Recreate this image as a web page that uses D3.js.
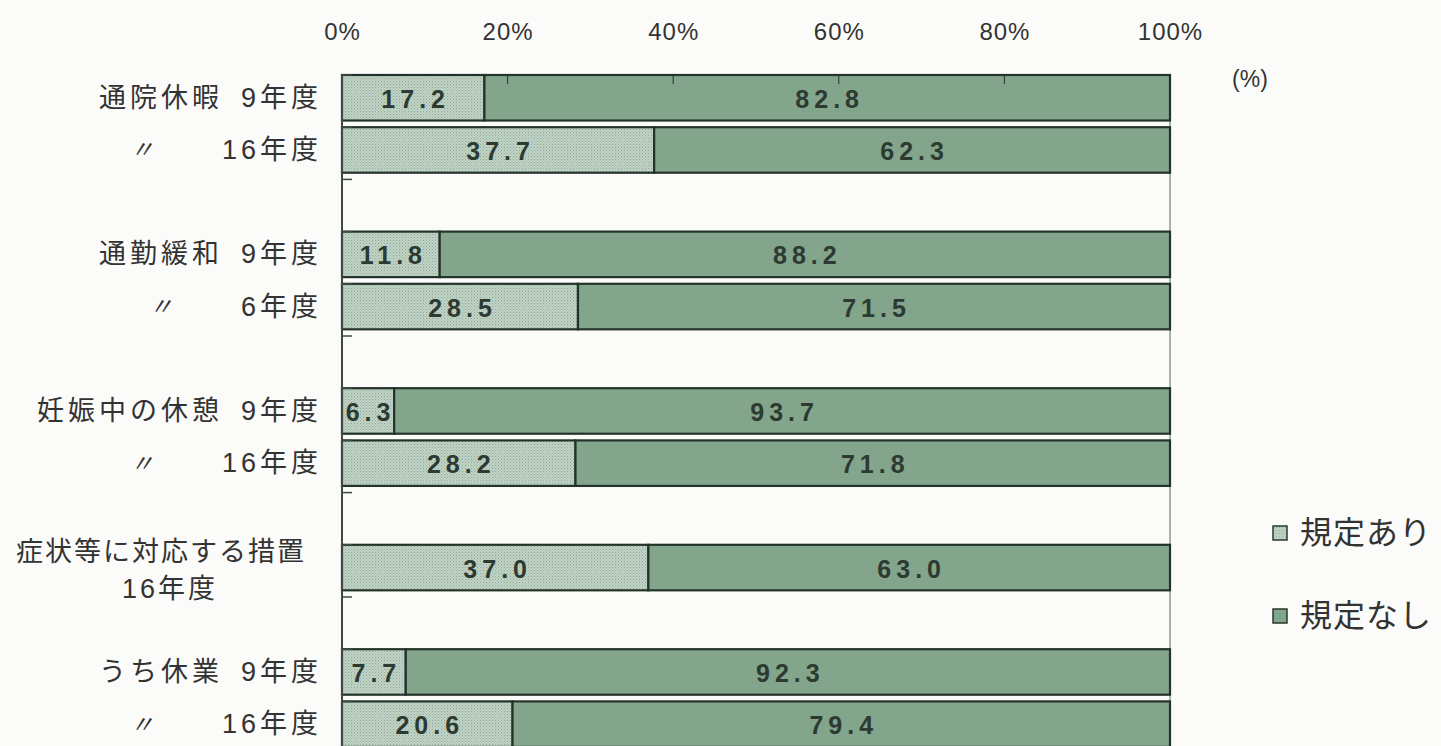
<!DOCTYPE html>
<html>
<head>
<meta charset="utf-8">
<script src="https://cdn.jsdelivr.net/npm/d3@7"></script>
<style>
  body { margin: 0; background: #fbfbf9; }
  text { font-family: "Liberation Sans", "Noto Sans CJK JP", sans-serif; }
</style>
</head>
<body>
<div id="chart"></div>
<script>
// data
var groups = ["通院休暇", "通勤緩和", "妊娠中の休憩", "症状等に対応する措置", "うち休業"];
var groupYears = [["9年度", "16年度"], ["9年度", "6年度"], ["9年度", "16年度"], ["16年度"], ["9年度", "16年度"]];
var withRule = [17.2, 37.7, 11.8, 28.5, 6.3, 28.2, 37.0, 7.7, 20.6];     // 規定あり
var withoutRule = [82.8, 62.3, 88.2, 71.5, 93.7, 71.8, 63.0, 92.3, 79.4]; // 規定なし
var xTicks = [0, 20, 40, 60, 80, 100];
var seriesNames = ["規定あり", "規定なし"];

var svgWidth = 1441;
var svgHeight = 746;

var svg = d3.select("#chart")
  .append("svg")
  .attr("width", svgWidth)
  .attr("height", svgHeight);

var defs = svg.append("defs");
var pat = defs.append("pattern")
  .attr("id", "dots")
  .attr("width", 3).attr("height", 3)
  .attr("patternUnits", "userSpaceOnUse");
pat.append("rect").attr("width", 3).attr("height", 3).attr("fill", "#c0d3c6");
pat.append("rect").attr("width", 1).attr("height", 1).attr("fill", "#8fa997");
pat.append("rect").attr("x", 1.5).attr("y", 1.5).attr("width", 1).attr("height", 1).attr("fill", "#a0b8a7");

var fills = ["url(#dots)", "#83a58c"];

// build rows, with an empty slot after each group
var rows = [];
var domain = [];
var idx = 0;
groups.forEach(function(g, gi) {
  groupYears[gi].forEach(function(yr, k) {
    rows.push({
      id: "row" + idx, group: g, year: yr, first: k === 0,
      single: groupYears[gi].length === 1,
      ari: withRule[idx], nashi: withoutRule[idx]
    });
    domain.push("row" + idx);
    idx++;
  });
  domain.push("gap" + gi);
});

var x = d3.scaleLinear().domain([0, 100]).range([342, 1170]);
var y = d3.scaleBand()
  .domain(domain)
  .range([75, 75 + 52.2 * domain.length])
  .paddingInner(0.128)
  .paddingOuter(0.064)
  .align(0);

var stack = d3.stack().keys(["ari", "nashi"]);
var series = stack(rows);

// right border of plot area
svg.append("line")
  .attr("x1", x(100)).attr("x2", x(100))
  .attr("y1", 75).attr("y2", svgHeight)
  .attr("stroke", "#8a9a8f").attr("stroke-width", 1.5);

// bars
series.forEach(function(s, si) {
  svg.append("g").selectAll("rect")
    .data(s)
    .enter()
    .append("rect")
    .attr("x", function(d) { return x(d[0]); })
    .attr("y", function(d) { return y(d.data.id); })
    .attr("width", function(d) { return x(d[1]) - x(d[0]); })
    .attr("height", y.bandwidth())
    .attr("fill", fills[si])
    .attr("stroke", "#24332a")
    .attr("stroke-width", 2.2);
});

// inner ticks of top axis
svg.append("g").selectAll("line")
  .data(xTicks.slice(1, -1))
  .enter()
  .append("line")
  .attr("x1", function(d) { return x(d); })
  .attr("x2", function(d) { return x(d); })
  .attr("y1", 75).attr("y2", 84)
  .attr("stroke", "#24332a").attr("stroke-width", 1);

// top axis labels
var topAxis = d3.axisTop(x)
  .tickValues(xTicks)
  .tickFormat(function(d) { return d + "%"; })
  .tickSize(0)
  .tickPadding(0);
var ax = svg.append("g")
  .attr("transform", "translate(0,40)")
  .call(topAxis);
ax.select(".domain").remove();
ax.selectAll("text")
  .style("font-size", "24px")
  .style("letter-spacing", "1px")
  .attr("fill", "#333");

// left axis line with slot ticks
svg.append("line")
  .attr("x1", x(0)).attr("x2", x(0))
  .attr("y1", 75).attr("y2", svgHeight)
  .attr("stroke", "#3d4a41").attr("stroke-width", 2);
svg.append("g").selectAll("line")
  .data(d3.range(domain.length + 1))
  .enter()
  .append("line")
  .attr("x1", x(0)).attr("x2", x(0) + 10)
  .attr("y1", function(k) { return 75 + k * y.step(); })
  .attr("y2", function(k) { return 75 + k * y.step(); })
  .attr("stroke", "#3d4a41").attr("stroke-width", 1.5);

// value labels
var ls = 5;
series.forEach(function(s) {
  svg.append("g").selectAll("text")
    .data(s)
    .enter()
    .append("text")
    .attr("x", function(d) { return (x(d[0]) + x(d[1])) / 2 + ls / 2; })
    .attr("y", function(d) { return y(d.data.id) + y.bandwidth() / 2 + 1; })
    .attr("text-anchor", "middle")
    .attr("dominant-baseline", "central")
    .style("font-size", "25px")
    .style("font-weight", "bold")
    .style("letter-spacing", ls + "px")
    .attr("fill", "#2c3a31")
    .text(function(d) { return (d[1] - d[0]).toFixed(1); });
});

// category labels
var labelG = svg.append("g")
  .style("font-size", "27px")
  .style("letter-spacing", "4px")
  .attr("fill", "#333");
rows.forEach(function(r) {
  var cy = y(r.id) + y.bandwidth() / 2;
  if (r.single) {
    labelG.append("text")
      .attr("x", 161).attr("y", cy - 16)
      .attr("text-anchor", "middle")
      .attr("dominant-baseline", "central")
      .style("letter-spacing", "2px")
      .text(r.group);
    labelG.append("text")
      .attr("x", 170).attr("y", cy + 21)
      .attr("text-anchor", "middle")
      .attr("dominant-baseline", "central")
      .style("letter-spacing", "3px")
      .text(r.year);
    return;
  }
  var yr = labelG.append("text")
    .attr("x", 322).attr("y", cy)
    .attr("text-anchor", "end")
    .attr("dominant-baseline", "central")
    .text(r.year);
  var yrStart = 322 - yr.node().getComputedTextLength();
  if (r.first) {
    labelG.append("text")
      .attr("x", yrStart - 18).attr("y", cy)
      .attr("text-anchor", "end")
      .attr("dominant-baseline", "central")
      .text(r.group);
  } else {
    labelG.append("text")
      .attr("x", yrStart - 64).attr("y", cy)
      .attr("text-anchor", "end")
      .attr("dominant-baseline", "central")
      .style("font-style", "italic")
      .style("font-size", "24px")
      .text("〃");
  }
});

// unit
svg.append("text")
  .attr("x", 1250).attr("y", 79)
  .attr("text-anchor", "middle")
  .attr("dominant-baseline", "central")
  .style("font-size", "23px")
  .attr("fill", "#333")
  .text("(%)");

// legend
var legendY = [533, 616];
var lg = svg.append("g").selectAll("g")
  .data(seriesNames)
  .enter()
  .append("g")
  .attr("transform", function(d, i) { return "translate(1273," + legendY[i] + ")"; });
lg.append("rect")
  .attr("x", 0).attr("y", -7)
  .attr("width", 14).attr("height", 14)
  .attr("fill", function(d, i) { return fills[i]; })
  .attr("stroke", "#2c3a31").attr("stroke-width", 1.5);
lg.append("text")
  .attr("x", 27).attr("y", 0)
  .attr("dominant-baseline", "central")
  .style("font-size", "32px")
  .style("letter-spacing", "1px")
  .attr("fill", "#333")
  .text(function(d) { return d; });
</script>
</body>
</html>
